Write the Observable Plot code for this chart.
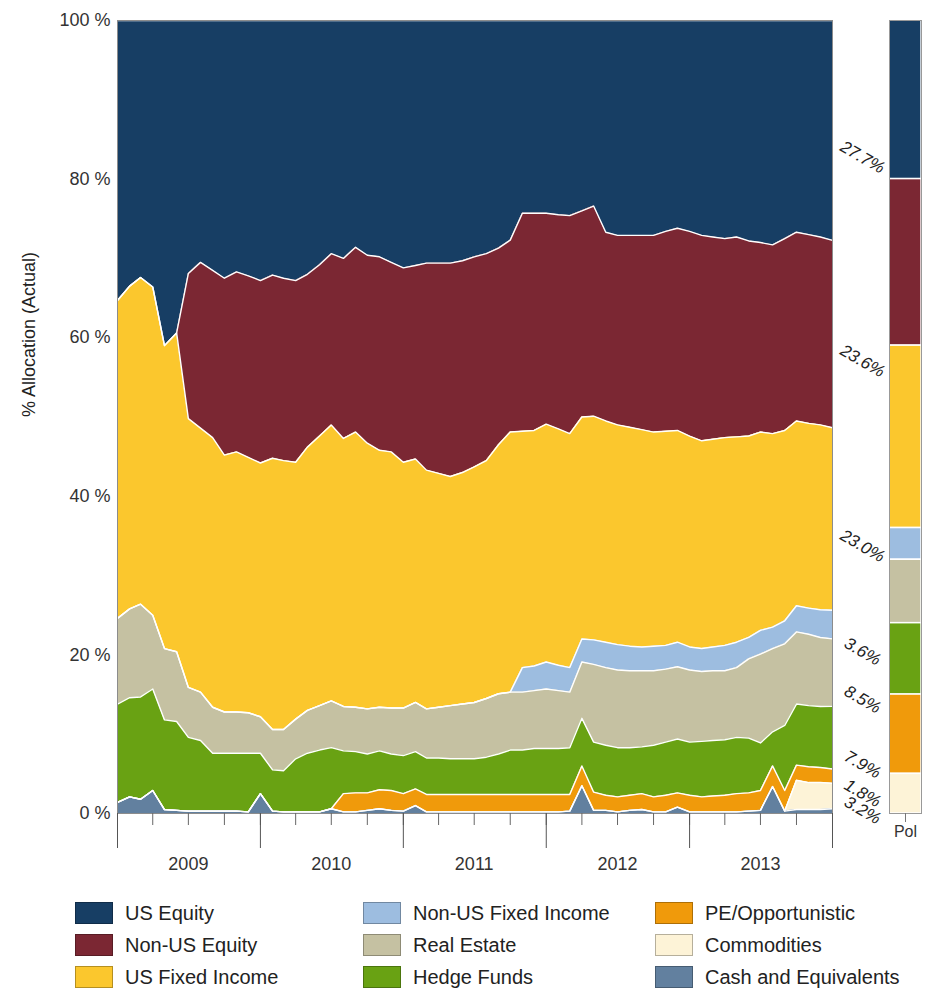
<!DOCTYPE html>
<html><head><meta charset="utf-8">
<script src="https://cdn.jsdelivr.net/npm/d3@7"></script>
<script src="https://cdn.jsdelivr.net/npm/@observablehq/plot@0.6"></script>
<style>
body{margin:0;background:#fff;font-family:"Liberation Sans",Arial,sans-serif;}
#wrap{width:931px;}
#charts{display:flex;align-items:flex-start;}
#legend{display:grid;grid-template-columns:288px 292px 260px;grid-template-rows:repeat(3,22px);row-gap:10px;grid-auto-flow:column;margin-left:75px;margin-top:24px;}
.item{display:flex;align-items:center;height:22px;font-size:20px;color:#222;white-space:nowrap;}
.sw{width:38px;height:22px;margin-right:12px;box-sizing:border-box;border:1px solid rgba(0,0,0,0.28);flex:none;}
</style></head><body>
<div id="wrap"><div id="charts"></div><div id="legend"></div></div>
<script>
// ---- categories (legend order) ----
const series = ["US Equity","Non-US Equity","US Fixed Income","Non-US Fixed Income","Real Estate","Hedge Funds","PE/Opportunistic","Commodities","Cash and Equivalents"];
const colors = ["#173e64","#7b2733","#fbc72d","#9dbde0","#c5c1a2","#69a213","#f09a0b","#fdf3d7","#62809f"];
// stacking order, bottom to top
const stackOrder = ["Cash and Equivalents","Commodities","PE/Opportunistic","Hedge Funds","Real Estate","Non-US Fixed Income","US Fixed Income","Non-US Equity","US Equity"];

// ---- monthly actual allocation (%), Jan 2009 .. Jan 2014 (61 points) ----
const usEquity = [35.3,33.5,32.4,33.6,41.0,39.4,31.9,30.5,31.5,32.5,
  31.7,32.2,32.8,32.1,32.5,32.8,32.0,30.8,29.4,30.0,
  28.6,29.6,29.8,30.5,31.2,30.9,30.6,30.6,30.6,30.3,
  29.8,29.4,28.7,27.7,24.3,24.3,24.3,24.5,24.6,24.0,
  23.4,26.7,27.1,27.1,27.1,27.1,26.6,26.2,26.6,27.1,
  27.3,27.5,27.3,27.8,28.0,28.3,27.5,26.7,27.0,27.3,
  27.7];
const nonUsEquity = [0,0,0,0,0,0,18.3,20.9,21.1,22.3,
  22.7,22.9,23.0,23.1,23.0,22.9,21.8,21.6,21.6,22.7,
  23.3,23.7,24.4,23.9,24.5,24.4,26.1,26.5,26.9,26.7,
  26.5,26.1,24.8,24.2,27.5,27.4,26.6,27.0,27.5,26.0,
  26.5,23.8,23.9,24.2,24.5,24.8,25.2,25.5,25.8,25.9,
  25.5,25.1,25.2,24.6,23.9,23.8,24.2,23.8,23.8,23.7,
  23.6];
const usFixedIncome = [40.1,40.7,41.2,41.4,38.2,40.2,33.9,33.3,34.0,32.4,
  32.8,32.2,32.0,34.2,33.9,32.4,33.2,34.0,34.8,33.8,
  34.7,33.5,32.4,32.3,31.0,30.7,30.1,29.5,28.9,29.2,
  29.7,30.0,31.4,32.8,29.8,29.7,30.0,29.8,29.5,28.0,
  28.2,27.9,27.7,27.6,27.4,27.0,27.0,26.7,26.6,26.2,
  26.2,26.2,25.9,25.4,25.0,24.4,24.0,23.3,23.3,23.3,
  23.0];
const nonUsFixedIncome = [0,0,0,0,0,0,0,0,0,0,
  0,0,0,0,0,0,0,0,0,0,
  0,0,0,0,0,0,0,0,0,0,
  0,0,0,0,3.1,3.1,3.4,3.2,3.1,2.9,
  3.1,3.2,3.2,3.1,3.0,3.1,3.0,3.1,2.9,2.9,
  3.0,3.2,3.2,2.7,3.0,2.7,2.9,3.3,3.3,3.5,
  3.6];
const realEstate = [10.8,11.2,11.7,9.3,9.0,8.8,6.3,6.1,5.8,5.2,
  5.2,5.1,4.6,5.1,5.2,5.0,5.4,5.6,5.9,5.6,
  5.6,5.7,5.5,5.8,6.0,6.2,6.2,6.4,6.7,6.9,
  7.1,7.4,7.6,7.3,7.3,7.3,7.5,7.3,7.0,7.1,
  9.8,9.8,9.8,9.7,9.6,9.4,9.2,9.1,9.1,8.8,
  8.8,8.7,8.8,10.0,11.2,10.5,10.3,9.1,9.0,8.7,
  8.5];
const hedgeFunds = [12.4,12.5,12.9,12.8,11.3,11.2,9.3,8.9,7.3,7.3,
  7.3,7.4,5.1,5.2,5.2,6.7,7.4,7.8,7.7,5.4,
  5.2,4.9,4.9,4.6,4.8,4.7,4.6,4.6,4.5,4.5,
  4.5,4.7,5.1,5.6,5.6,5.8,5.8,5.8,5.9,6.0,
  6.3,6.3,6.2,6.0,5.9,6.5,6.7,6.8,6.7,7.0,
  7.0,7.0,7.1,6.9,6.0,4.3,8.2,7.7,7.7,7.7,
  7.9];
const peOpportunistic = [0,0,0,0,0,0,0,0,0,0,
  0,0,0,0,0,0,0,0,0,2.3,
  2.4,2.2,2.4,2.5,2.2,2.1,2.2,2.2,2.2,2.2,
  2.2,2.2,2.2,2.2,2.2,2.2,2.2,2.2,2.1,2.5,
  2.3,1.9,1.9,1.9,2.0,1.9,2.1,1.8,2.1,1.9,
  2.0,2.1,2.3,2.3,2.5,2.6,2.6,1.9,2.0,1.9,
  1.8];
const commodities = [0,0,0,0,0,0,0,0,0,0,
  0,0,0,0,0,0,0,0,0,0,
  0,0,0,0,0,0,0,0,0,0,
  0,0,0,0,0,0,0,0,0,0,
  0,0,0,0,0,0,0,0,0,0,
  0,0,0,0,0,0,0,3.7,3.4,3.4,
  3.2];
const cash = [1.4,2.1,1.8,2.9,0.5,0.4,0.3,0.3,0.3,0.3,
  0.3,0.2,2.5,0.3,0.2,0.2,0.2,0.2,0.6,0.2,
  0.2,0.4,0.6,0.4,0.3,1.0,0.2,0.2,0.2,0.2,
  0.2,0.2,0.2,0.2,0.2,0.2,0.2,0.2,0.3,3.5,
  0.4,0.4,0.2,0.4,0.5,0.2,0.2,0.8,0.2,0.2,
  0.2,0.2,0.2,0.3,0.4,3.4,0.3,0.5,0.5,0.5,
  0.6];
// ---- policy targets (%) in legend order ----
const policy = [20,21,23,4,8,9,10,5,0];
// ---- axis labels ----
const years = [2009,2010,2011,2012,2013];
const yTicks = [0,20,40,60,80,100];
const polLabel = "Pol";

const seriesValues = [usEquity,nonUsEquity,usFixedIncome,nonUsFixedIncome,realEstate,hedgeFunds,peOpportunistic,commodities,cash];
const months = d3.range(usEquity.length).map(i => new Date(Date.UTC(years[0], i, 1)));
const table = [];
seriesValues.forEach((vals, k) => vals.forEach((v, i) => table.push({date: months[i], series: series[k], value: v})));

const polTable = series.map((s, k) => ({pol: polLabel, series: s, value: policy[k]}));

// labels of the latest actual allocation, placed next to the stack
const n = usEquity.length - 1;
const lastVal = {}; series.forEach((s, k) => lastVal[s] = seriesValues[k][n]);
const total = d3.sum(series, s => lastVal[s]);
let cum = 0; const mids = {};
stackOrder.forEach(s => { const v = lastVal[s] / total * 100; mids[s] = cum + v / 2; cum += v; });
const labels = []; let prev = -Infinity;
stackOrder.filter(s => s !== "Cash and Equivalents").forEach(s => {
  const y = Math.max(mids[s] - 3.4, 0.4, prev + 2.15);
  labels.push({pol: polLabel, y, text: lastVal[s].toFixed(1) + "%"});
  prev = y;
});

const H = 878, MT = 20, MB = 65;
const colorScale = {domain: series, range: colors};
const quarters = d3.utcMonth.every(3).range(months[0], new Date(+months[n] + 1));
const yearStarts = d3.utcYear.range(months[0], new Date(+months[n] + 1));
const midYears = years.map(y => new Date(Date.UTC(y, 6, 1)));

const main = Plot.plot({
  width: 836, height: H, marginLeft: 117, marginRight: 4, marginTop: MT, marginBottom: MB,
  style: {fontFamily: "'Liberation Sans', Arial, sans-serif", fontSize: "18px", color: "#333", background: "transparent"},
  x: {type: "utc", domain: [months[0], months[n]]},
  y: {domain: [0, 1]},
  color: colorScale,
  marks: [
    Plot.areaY(table, {x: "date", y: "value", z: "series", fill: "series", order: stackOrder, offset: "normalize"}),
    Plot.lineY(table, Plot.stackY2({x: "date", y: "value", z: "series", order: stackOrder, offset: "normalize", stroke: "white", strokeWidth: 1.4})),
    Plot.frame({stroke: "#8c8c8c", strokeWidth: 1}),
    Plot.axisY(yTicks.map(d => d / 100), {tickSize: 0, tickPadding: 7, tickFormat: d => Math.round(d * 100) + " %", fontSize: 18, label: null}),
    Plot.text(["% Allocation (Actual)"], {frameAnchor: "left", rotate: -90, dx: -88, fontSize: 18, fill: "#222"}),
    Plot.axisX(quarters, {tickSize: 12, tickFormat: () => "", stroke: "#666", label: null}),
    Plot.axisX(yearStarts, {tickSize: 35, tickFormat: () => "", stroke: "#555", label: null}),
    Plot.axisX(midYears, {tickSize: 0, tickPadding: 44, tickFormat: d3.utcFormat("%Y"), fontSize: 18, label: null})
  ]
});

const pol = Plot.plot({
  width: 95, height: H, marginLeft: 53, marginRight: 10, marginTop: MT, marginBottom: MB,
  style: {fontFamily: "'Liberation Sans', Arial, sans-serif", fontSize: "16px", color: "#333", background: "transparent", overflow: "visible"},
  x: {domain: [polLabel], padding: 0},
  y: {domain: [0, 100], axis: null},
  color: colorScale,
  marks: [
    Plot.barY(polTable, {x: "pol", y: "value", fill: "series", order: stackOrder, stroke: "white", strokeWidth: 1.5}),
    Plot.frame({stroke: "#999", strokeWidth: 1}),
    Plot.axisX({tickSize: 9, tickPadding: 3, fontSize: 16, label: null, stroke: "#777"}),
    Plot.text(labels, {x: "pol", y: "y", text: "text", dx: -43, rotate: 30, fontStyle: "italic", fontSize: 17, fill: "#222"})
  ]
});

document.getElementById("charts").append(main, pol);

const legend = document.getElementById("legend");
series.forEach((s, k) => {
  const it = document.createElement("div"); it.className = "item";
  const sw = document.createElement("span"); sw.className = "sw"; sw.style.background = colors[k];
  const tx = document.createElement("span"); tx.textContent = s;
  it.append(sw, tx); legend.append(it);
});
</script>
</body></html>
